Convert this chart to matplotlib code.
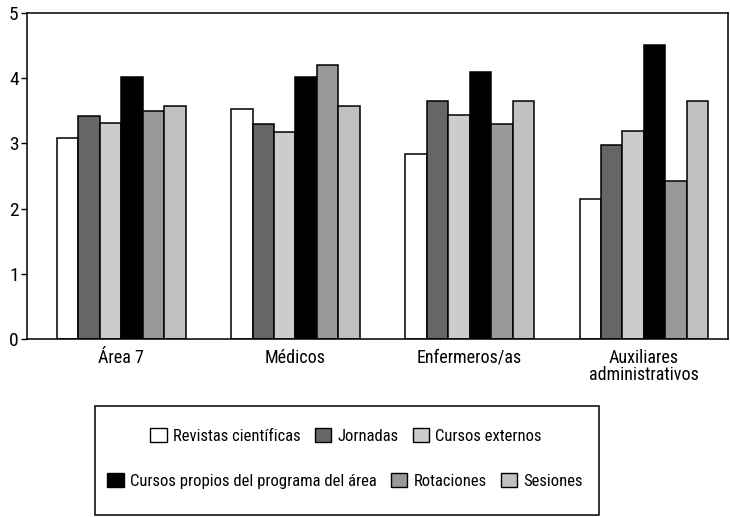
import matplotlib
matplotlib.use("Agg")
import matplotlib.pyplot as plt
import numpy as np
from matplotlib.patches import Rectangle, Patch

plt.rcParams['font.family'] = ['Roboto Condensed', 'Roboto', 'DejaVu Sans']
plt.rcParams['font.stretch'] = 'condensed'

categories = ["Área 7", "Médicos", "Enfermeros/as", "Auxiliares\nadministrativos"]
series_names = ["Revistas científicas", "Jornadas", "Cursos externos",
                "Cursos propios del programa del área", "Rotaciones", "Sesiones"]
revistas = [3.08, 3.52, 2.84, 2.15]
jornadas = [3.42, 3.30, 3.65, 2.97]
cursos_externos = [3.31, 3.17, 3.43, 3.19]
cursos_propios = [4.02, 4.02, 4.10, 4.51]
rotaciones = [3.50, 4.20, 3.29, 2.43]
sesiones = [3.57, 3.57, 3.65, 3.65]
yticks = [0, 1, 2, 3, 4, 5]

series = [revistas, jornadas, cursos_externos, cursos_propios, rotaciones, sesiones]
colors = ["#ffffff", "#666666", "#cccccc", "#000000", "#999999", "#c0c0c0"]

fig = plt.figure(figsize=(7.30, 5.17), dpi=100)
W, H = 730, 517
ax = fig.add_axes([27 / W, 1 - 339 / H, (728 - 27) / W, (339 - 13) / H])

x = np.arange(len(categories))
bw = 0.123
n = len(series)
for i, (vals, c) in enumerate(zip(series, colors)):
    offs = (i - (n - 1) / 2) * bw
    ax.bar(x + offs, vals, width=bw, color=c, edgecolor="black", linewidth=1.1)

ax.set_xlim(-0.541, 3.483)
ax.set_ylim(0, 5)
ax.set_yticks(yticks)
ax.set_yticklabels([str(t) for t in yticks], fontsize=14)
ax.set_xticks(x)
ax.set_xticklabels(categories, fontsize=13, linespacing=0.95)
ax.tick_params(axis='x', length=0, pad=7)
ax.tick_params(axis='y', length=4, width=1, pad=2)
for s in ax.spines.values():
    s.set_linewidth(1.1)

# legend box
fig.patches.append(Rectangle((95 / W, 1 - 515 / H), (599 - 95) / W, (515 - 406) / H,
                             transform=fig.transFigure, facecolor="white",
                             edgecolor="black", linewidth=1.1))
handles = [Patch(facecolor=c, edgecolor="black", linewidth=1.0) for c in colors]
common = dict(loc="center", ncol=3, frameon=False, fontsize=12,
              handlelength=1.0, handleheight=0.9, handletextpad=0.36,
              columnspacing=0.85)
leg1 = fig.legend(handles[:3], series_names[:3],
                  bbox_to_anchor=(346 / W, 1 - 436 / H), **common)
leg2 = fig.legend(handles[3:], series_names[3:],
                  bbox_to_anchor=(345 / W, 1 - 481 / H), **common)

fig.savefig("out.png", dpi=100)
